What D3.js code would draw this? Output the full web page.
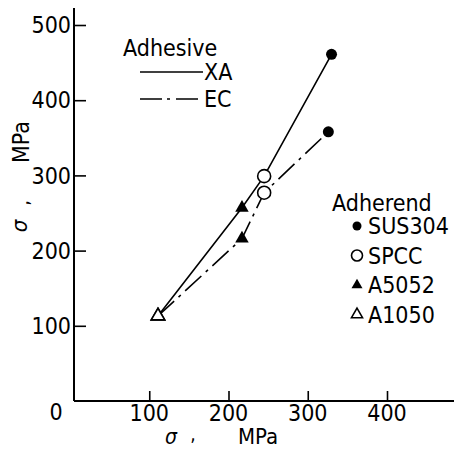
<!DOCTYPE html>
<html><head><meta charset="utf-8">
<script src="https://cdn.jsdelivr.net/npm/d3@7"></script>
<style>
html,body{margin:0;padding:0;background:#fff;}
svg text{font-family:"DejaVu Sans Condensed","DejaVu Sans",sans-serif;font-stretch:condensed;fill:#000;}
</style></head>
<body><svg id="c" width="454" height="451"></svg>
<script>
// Data
const adherends = ["SUS304", "SPCC", "A5052", "A1050"];
const adherendMarkers = ["filledCircle", "openCircle", "filledTriangle", "openTriangle"];
const adhesives = ["XA", "EC"];
// sigma (x) and sigma (y) per adherend, in MPa
const xaX = [330, 245, 217, 111];
const xaY = [461, 299, 257, 113];
const ecX = [326, 245, 217, 111];
const ecY = [358, 277, 216, 113];
const xTicks = [100, 200, 300, 400];
const yTicks = [100, 200, 300, 400, 500];

const svg = d3.select("#c");
const x = d3.scaleLinear().domain([0, 400]).range([70, 387]);
const y = d3.scaleLinear().domain([0, 500]).range([401, 25]);
const axisX = 74;

// axes lines
svg.append("line").attr("x1", axisX).attr("x2", axisX).attr("y1", 8).attr("y2", y(0))
  .attr("stroke", "#000").attr("stroke-width", 2);
svg.append("line").attr("x1", axisX).attr("x2", 454).attr("y1", y(0)).attr("y2", y(0))
  .attr("stroke", "#000").attr("stroke-width", 2);

// y ticks (inward)
const yAx = svg.append("g").attr("transform", `translate(${axisX},0)`)
  .call(d3.axisRight(y).tickValues(yTicks).tickSize(12).tickFormat(""));
yAx.select(".domain").remove();
yAx.selectAll("line").attr("stroke-width", 1.6);
svg.selectAll(".ylab").data(yTicks).enter().append("text")
  .attr("x", 71).attr("y", d => y(d)).attr("dy", "0.36em")
  .attr("text-anchor", "end").attr("font-size", 23).text(d => d);

// x ticks (inward)
const xAx = svg.append("g").attr("transform", `translate(0,${y(0)})`)
  .call(d3.axisTop(x).tickValues(xTicks).tickSize(10).tickFormat(""));
xAx.select(".domain").remove();
xAx.selectAll("line").attr("stroke-width", 1.6);
svg.selectAll(".xlab").data(xTicks).enter().append("text")
  .attr("x", d => x(d)).attr("y", 413).attr("dy", "0.36em")
  .attr("text-anchor", "middle").attr("font-size", 23).text(d => d);
svg.append("text").attr("x", 56).attr("y", 412).attr("dy", "0.36em")
  .attr("text-anchor", "middle").attr("font-size", 23).text("0");

// axis titles
svg.append("text").attr("x", 171).attr("y", 436).attr("dy", "0.36em").attr("text-anchor", "middle")
  .attr("font-size", 21).attr("font-style", "italic").text("σ");
svg.append("text").attr("x", 193).attr("y", 434).attr("dy", "0.36em").attr("text-anchor", "middle")
  .attr("font-size", 19).text(",");
svg.append("text").attr("x", 258).attr("y", 436).attr("dy", "0.36em").attr("text-anchor", "middle")
  .attr("font-size", 22).text("MPa");
const yt = (txt, cx, cy, fs, it) => svg.append("text")
  .attr("transform", `translate(${cx},${cy}) rotate(-90)`).attr("dy", "0.36em")
  .attr("text-anchor", "middle").attr("font-size", fs).attr("font-style", it ? "italic" : "normal").text(txt);
yt("σ", 19, 226, 22, true);
yt(",", 22, 203, 20, false);
yt("MPa", 21, 142, 23, false);

// lines
const line = d3.line().x(d => x(d[0])).y(d => y(d[1]));
const xaPts = xaX.map((v, i) => [v, xaY[i]]).reverse();
const ecPts = ecX.map((v, i) => [v, ecY[i]]).reverse();
svg.append("path").attr("d", line(xaPts)).attr("fill", "none").attr("stroke", "#000").attr("stroke-width", 1.6);
svg.append("path").attr("d", line(ecPts)).attr("fill", "none").attr("stroke", "#000").attr("stroke-width", 1.6)
  .attr("stroke-dasharray", "22,6,3,6");

// markers
function marker(g, type, cx, cy, s) {
  if (type === "filledCircle") {
    g.append("circle").attr("cx", cx).attr("cy", cy).attr("r", s).attr("fill", "#000");
  } else if (type === "openCircle") {
    g.append("circle").attr("cx", cx).attr("cy", cy).attr("r", s + 1).attr("fill", "#fff")
      .attr("stroke", "#000").attr("stroke-width", 1.6);
  } else {
    const sym = d3.symbol().type(d3.symbolTriangle).size(s * s * 2.6);
    const p = g.append("path").attr("d", sym()).attr("transform", `translate(${cx},${cy})`);
    if (type === "filledTriangle") p.attr("fill", "#000");
    else p.attr("fill", "#fff").attr("stroke", "#000").attr("stroke-width", 1.6);
  }
}
const mg = svg.append("g");
adherends.forEach((a, i) => {
  marker(mg, adherendMarkers[i], x(ecX[i]), y(ecY[i]), 5.5);
  marker(mg, adherendMarkers[i], x(xaX[i]), y(xaY[i]), 5.5);
});

// Adhesive legend
svg.append("text").attr("x", 123).attr("y", 56).attr("font-size", 23).text("Adhesive");
svg.append("line").attr("x1", 140).attr("x2", 203).attr("y1", 72).attr("y2", 72)
  .attr("stroke", "#000").attr("stroke-width", 1.6);
svg.append("text").attr("x", 204).attr("y", 72).attr("dy", "0.36em").attr("font-size", 23).text(adhesives[0]);
svg.append("line").attr("x1", 140).attr("x2", 201).attr("y1", 99).attr("y2", 99)
  .attr("stroke", "#000").attr("stroke-width", 1.6).attr("stroke-dasharray", "22,5,3,6");
svg.append("text").attr("x", 204).attr("y", 99).attr("dy", "0.36em").attr("font-size", 23).text(adhesives[1]);

// Adherend legend
svg.append("text").attr("x", 332).attr("y", 211).attr("font-size", 23).text("Adherend");
const lg = svg.append("g");
adherends.forEach((a, i) => {
  const cy = 226 + i * 29.5;
  marker(lg, adherendMarkers[i], 357, cy, 4.5);
  lg.append("text").attr("x", 368).attr("y", cy).attr("dy", "0.36em").attr("font-size", 23).text(a);
});
</script></body></html>
